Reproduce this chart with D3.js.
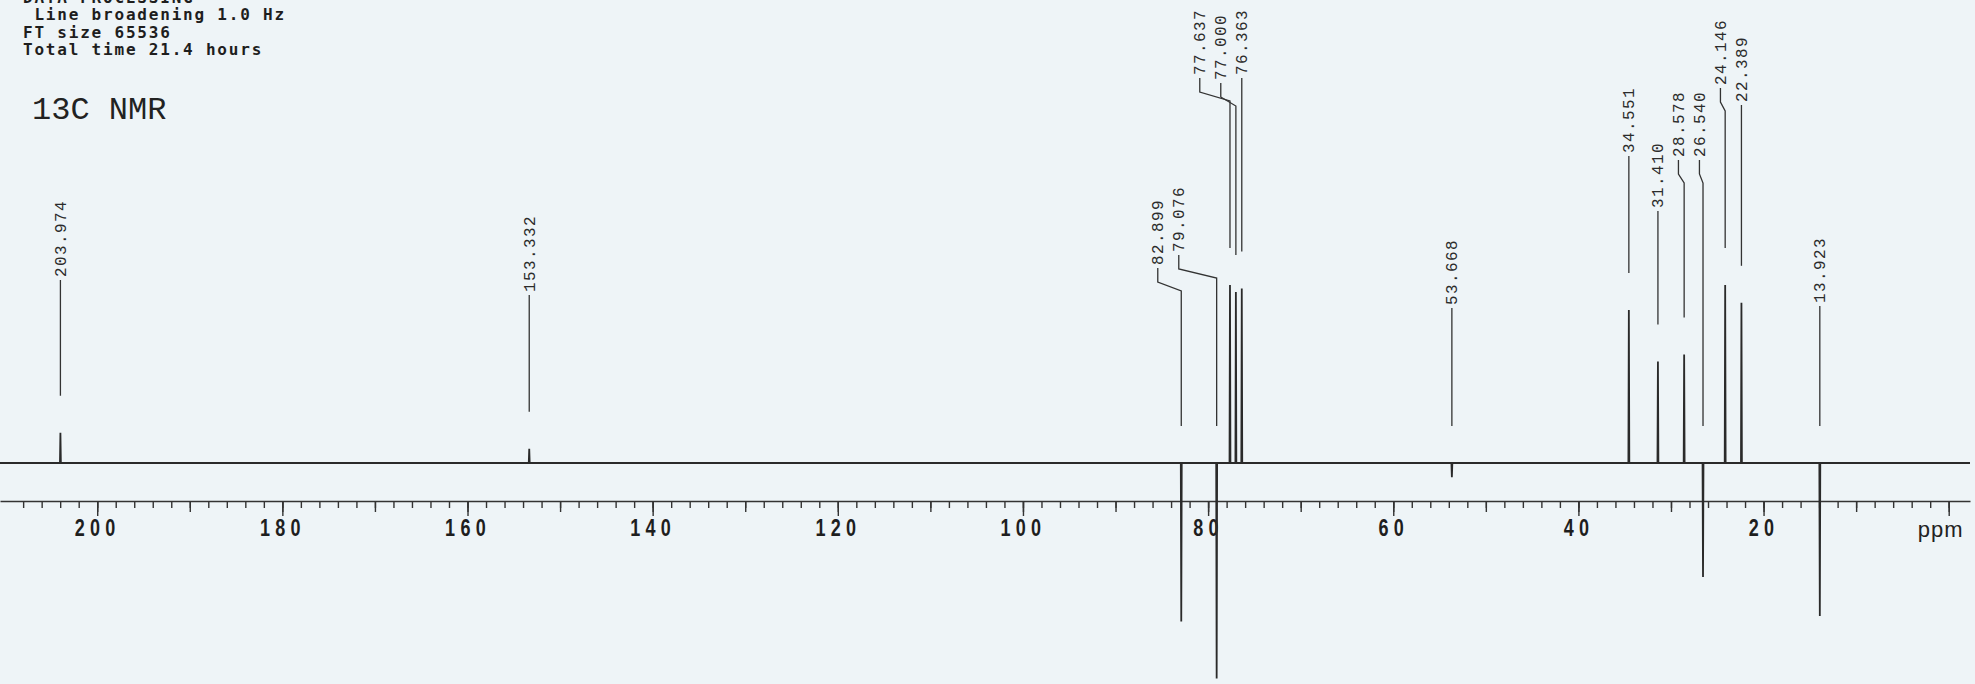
<!DOCTYPE html>
<html>
<head>
<meta charset="utf-8">
<script src="https://cdn.jsdelivr.net/npm/d3@7"></script>
<style>
  body { margin: 0; background: #eff4f8; }
  svg { display: block; }
</style>
</head>
<body>
<div id="chart"></div>
<script>
// 13C spectrum, peaks (ppm) and their relative heights
const peakShifts = [203.974, 153.332, 82.899, 79.076, 77.637, 77.000, 76.363, 53.668, 34.551, 31.410, 28.578, 26.540, 24.146, 22.389, 13.923];
const peakHeights = [17, 8, -89, -121, 100, 96, 98, -8, 86, 57, 61, -64, 100, 90, -86];

const axisLabels = [200, 180, 160, 140, 120, 100, 80, 60, 40, 20];
const axisUnit = "ppm";

const headerLines = ["DATA PROCESSING", " Line broadening 1.0 Hz", "FT size 65536", "Total time 21.4 hours"];
const title = "13C NMR";

const width = 1975, height = 684;
const axisY = 501;

const svg = d3.select("#chart").append("svg")
    .attr("width", width)
    .attr("height", height);

svg.append("rect")
    .attr("width", width)
    .attr("height", height)
    .attr("fill", "#eef4f7");

const x = d3.scaleLinear()
    .domain([210.5, -2.3])
    .range([0, 1970]);

// intensity 0 sits on the baseline, 100 = tallest line
const y = d3.scaleLinear()
    .domain([0, 100])
    .range([463, 285]);

// header text
svg.append("g")
    .selectAll("text")
    .data(headerLines)
    .enter()
    .append("text")
    .attr("x", 23)
    .attr("y", (d, i) => 3 + i * 17.4)
    .attr("xml:space", "preserve")
    .style("white-space", "pre")
    .attr("font-family", "'DejaVu Sans Mono', monospace")
    .attr("font-weight", "bold")
    .attr("font-size", "16px")
    .attr("letter-spacing", "1.8px")
    .attr("fill", "#1e1e1e")
    .text(d => d);

svg.append("text")
    .attr("x", 32)
    .attr("y", 119)
    .attr("font-family", "'Liberation Mono', monospace")
    .attr("font-size", "32px")
    .attr("fill", "#222")
    .text(title);

// axis: minor every 2, medium every 10, major every 20
const minorAxis = d3.axisBottom(x)
    .tickValues(d3.range(208, -1, -2))
    .tickSize(7)
    .tickSizeOuter(0)
    .tickFormat("");
const midAxis = d3.axisBottom(x)
    .tickValues(d3.range(200, -1, -10))
    .tickSize(11)
    .tickSizeOuter(0)
    .tickFormat("");
const majorAxis = d3.axisBottom(x)
    .tickValues(axisLabels.concat([0]))
    .tickSize(15)
    .tickSizeOuter(0)
    .tickPadding(3)
    .tickFormat(d => d === 0 ? "" : d);

[minorAxis, midAxis, majorAxis].forEach((ax, i) => {
    const g = svg.append("g")
        .attr("transform", `translate(0,${axisY})`)
        .call(ax);
    g.selectAll("line").attr("stroke", "#333").attr("stroke-width", 1.4);
    g.select(".domain").attr("stroke", i === 0 ? "#333" : "none").attr("stroke-width", 1.5);
    g.selectAll("text")
        .attr("font-family", "'Liberation Sans', Arial, sans-serif")
        .attr("font-weight", "bold")
        .attr("font-size", "24px")
        .attr("letter-spacing", "7px")
        .attr("transform", "scale(0.75,1)")
        .attr("fill", "#1e1e1e");
});

svg.append("text")
    .attr("x", x(0) - 8)
    .attr("y", 537)
    .attr("text-anchor", "middle")
    .attr("font-family", "'Liberation Sans', Arial, sans-serif")
    .attr("font-size", "22px")
    .attr("letter-spacing", "1px")
    .attr("fill", "#222")
    .text(axisUnit);

// spectrum trace built from the peak list
const peaks = peakShifts.map((d, i) => ({ ppm: d, h: peakHeights[i], label: d.toFixed(3) }));
const sorted = peaks.slice().sort((a, b) => b.ppm - a.ppm);
const tracePts = [[x.domain()[0], 0]];
sorted.forEach(p => {
    tracePts.push([p.ppm + 0.05, 0]);
    tracePts.push([p.ppm, p.h]);
    tracePts.push([p.ppm - 0.05, 0]);
});
tracePts.push([x.domain()[1], 0]);

const line = d3.line()
    .x(d => x(d[0]))
    .y(d => y(d[1]));

svg.append("path")
    .datum(tracePts)
    .attr("d", line)
    .attr("fill", "none")
    .attr("stroke", "#2a2a2a")
    .attr("stroke-width", 1.8)
    .attr("stroke-linejoin", "miter");

// peak labels: spread right to left so they stay at least 21px apart
const gap = 21;
const byX = peaks.slice().sort((a, b) => x(b.ppm) - x(a.ppm));
let last = Infinity;
byX.forEach(p => {
    p.px = x(p.ppm);
    p.lx = Math.min(p.px, last - gap);
    last = p.lx;
});

// bottom of each label text (layout only), same order as peakShifts
const labelBottom = [277, 292, 265, 252, 75, 80, 75, 305, 153, 208, 157, 157, 85, 102, 303];
peaks.forEach((p, i) => {
    p.lb = labelBottom[i];
    p.end = Math.min(y(p.h), y(0)) - 37;
});

svg.append("g")
    .selectAll("path")
    .data(peaks)
    .enter()
    .append("path")
    .attr("d", p => {
        const yb = p.lb + 3;
        if (Math.abs(p.lx - p.px) < 1.5) return `M${p.px},${yb}V${p.end}`;
        return `M${p.lx},${yb}V${yb + 14}L${p.px},${yb + 23}V${p.end}`;
    })
    .attr("fill", "none")
    .attr("stroke", "#333")
    .attr("stroke-width", 1.3);

svg.append("g")
    .selectAll("text")
    .data(peaks)
    .enter()
    .append("text")
    .attr("transform", p => `translate(${p.lx},${p.lb}) rotate(-90)`)
    .attr("dy", "0.35em")
    .attr("font-family", "'Liberation Mono', monospace")
    .attr("font-size", "16px")
    .attr("letter-spacing", "1.4px")
    .attr("fill", "#2b2b2b")
    .text(p => p.label);
</script>
</body>
</html>
